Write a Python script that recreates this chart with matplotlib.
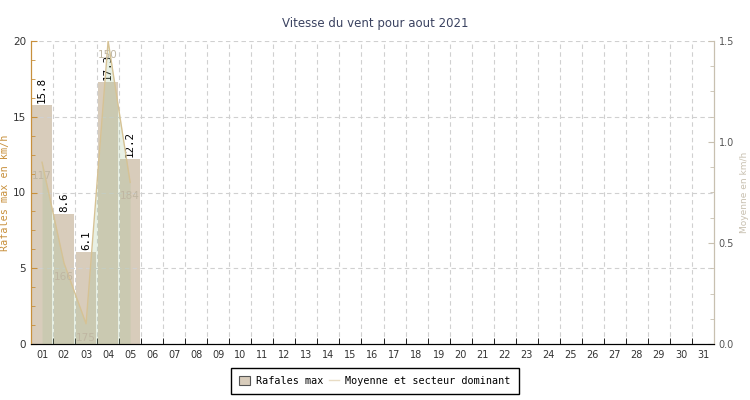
import matplotlib
matplotlib.use("Agg")
import matplotlib.pyplot as plt
from matplotlib.patches import Patch
from matplotlib.lines import Line2D
import numpy as np

# data
DAYS        = np.arange(1, 32)
DAY_LABELS  = [f"{d:02d}" for d in DAYS]
RAFALES     = [15.8, 8.6, 6.1, 17.3, 12.2]          # km/h, days 01-05
MOYENNE     = [0.9, 0.4, 0.1, 1.5, 0.8]             # km/h, right axis
SECTEUR     = ["117", "166", "175", "150", "184"]   # dominant direction

BAR_COLOR   = "#d8ccbb"
FILL_COLOR  = "#a4c494"
LINE_COLOR  = "#d6c294"
LEFT_COLOR  = "#c8903c"
RIGHT_COLOR = "#c8c0b0"
GRID_COLOR  = "#d0d0d0"
MONO        = "DejaVu Sans Mono"

fig = plt.figure(figsize=(7.5, 4), dpi=100)
ax = fig.add_axes([31 / 750, 1 - 344 / 400, (714 - 31) / 750, (344 - 41) / 400])
ax2 = ax.twinx()

n = len(RAFALES)
x_data = DAYS[:n]

# bars (left axis)
ax.bar(x_data, RAFALES, width=0.9, color=BAR_COLOR, zorder=1)
for x, v in zip(x_data, RAFALES):
    ax.annotate(f"{v}", xy=(x, v), xytext=(0, 2), textcoords="offset pixels",
                rotation=90, ha="center", va="bottom", fontsize=7.8,
                family=MONO, color="black", zorder=5)

# moyenne line + fill (right axis)
ax2.fill_between(x_data, 0, MOYENNE, color=FILL_COLOR, alpha=0.25, lw=0)
ax2.plot(x_data, MOYENNE, color=LINE_COLOR, lw=1)
for x, v, s in zip(x_data, MOYENNE, SECTEUR):
    ax2.annotate(s, xy=(x, v), xytext=(0, -14), textcoords="offset pixels",
                 ha="center", va="center", fontsize=7.5, color="#bfb6a2")

ax.set_xlim(0.5, 31.5)
ax.set_ylim(0, 20)
ax2.set_ylim(0, 1.5)

# x axis: labels at slot centres, ticks on slot boundaries
ax.set_xticks(DAYS)
ax.set_xticklabels(DAY_LABELS, fontsize=7, color="#333333")
ax.set_xticks(np.arange(1.5, 31.5, 1), minor=True)
ax.tick_params(axis="x", which="major", length=0, pad=4)
ax.tick_params(axis="x", which="minor", direction="in", length=4,
               color="black")

# left axis
ax.set_yticks([0, 5, 10, 15, 20])
ax.set_yticks(np.arange(0, 20.01, 1.25), minor=True)
ax.tick_params(axis="y", which="both", direction="in", color=LEFT_COLOR,
               labelsize=7.5, labelcolor="#333333")
ax.tick_params(axis="y", which="major", length=4)
ax.tick_params(axis="y", which="minor", length=3)
ax.set_ylabel("Rafales max en km/h", color=LEFT_COLOR, family=MONO,
              fontsize=7.3)
ax.yaxis.set_label_coords(-21 / 683, 0.5)

# right axis
ax2.set_yticks([0.0, 0.5, 1.0, 1.5])
ax2.set_yticklabels(["0.0", "0.5", "1.0", "1.5"])
ax2.set_yticks(np.arange(0, 1.501, 0.125), minor=True)
ax2.tick_params(axis="y", which="both", direction="in", color=RIGHT_COLOR,
                labelsize=7, labelcolor="#555555")
ax2.tick_params(axis="y", which="major", length=4)
ax2.tick_params(axis="y", which="minor", length=3)
ax2.set_ylabel("Moyenne en km/h", color=RIGHT_COLOR, fontsize=6.5)
ax2.yaxis.set_label_coords(1 + 26 / 683, 0.5)

# grid
ax.set_axisbelow(False)
ax.grid(axis="y", which="major", color=GRID_COLOR, ls=(0, (4, 3)), lw=0.8)
ax.grid(axis="x", which="minor", color=GRID_COLOR, ls=(0, (4, 3)), lw=0.8)
ax.grid(axis="x", which="major", visible=False)

for a in (ax, ax2):
    a.spines["top"].set_visible(False)
    a.spines["left"].set_color(LEFT_COLOR)
    a.spines["bottom"].set_color("black")
    a.spines["right"].set_color(RIGHT_COLOR)

fig.text(0.5, 1 - 24 / 400, "Vitesse du vent pour aout 2021", ha="center",
         va="center", fontsize=8.5, color="#3a4260")

handles = [Patch(facecolor=BAR_COLOR, edgecolor="#555555", lw=0.8),
           Line2D([], [], color="#e8dcc4", lw=1)]
leg = fig.legend(handles, ["Rafales max", "Moyenne et secteur dominant"],
                 loc="center", bbox_to_anchor=(0.5, 1 - 381 / 400), ncol=2,
                 fancybox=False, framealpha=1, edgecolor="black",
                 prop={"family": MONO, "size": 7.3}, handlelength=1.0,
                 handleheight=1.0, columnspacing=0.6, handletextpad=0.6,
                 borderpad=0.8)
leg.get_frame().set_linewidth(1)

fig.savefig("out.png", dpi=100)
